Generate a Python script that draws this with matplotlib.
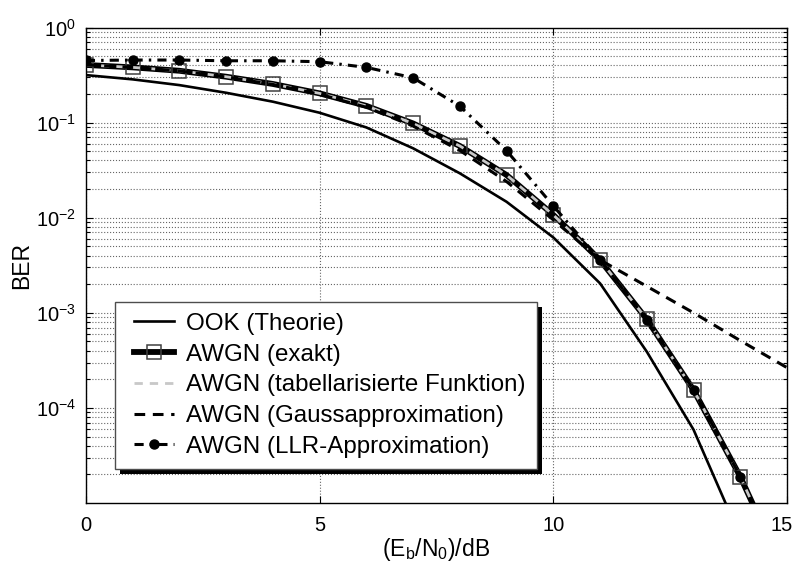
import matplotlib
matplotlib.use("Agg")
import matplotlib.pyplot as plt
import matplotlib.transforms as mtransforms
from matplotlib.legend_handler import HandlerLine2D
from matplotlib.patches import Rectangle
from matplotlib.ticker import LogLocator, NullFormatter

plt.rcParams['font.family'] = ['Liberation Sans', 'DejaVu Sans']
plt.rcParams['mathtext.fontset'] = 'custom'
plt.rcParams['mathtext.rm'] = 'Liberation Sans'
plt.rcParams['mathtext.it'] = 'Liberation Sans:italic'
plt.rcParams['mathtext.bf'] = 'Liberation Sans:bold'
plt.rcParams['mathtext.default'] = 'regular'

# Eb/N0 in dB
snr_ook = [0, 1, 2, 3, 4, 5, 6, 7, 8, 9, 10, 11, 12, 13, 14]
ber_ook = [0.316, 0.285, 0.248, 0.206, 0.166, 0.127, 0.089, 0.0537, 0.0293,
           0.0147, 6.2e-3, 2.04e-3, 3.9e-4, 5.9e-5, 4.4e-6]

snr_exact = [0, 1, 2, 3, 4, 5, 6, 7, 8, 9, 10, 11, 12, 13, 14, 15]
ber_exact = [0.404, 0.381, 0.351, 0.304, 0.255, 0.203, 0.150, 0.098, 0.0568,
             0.0281, 0.0107, 3.59e-3, 8.55e-4, 1.54e-4, 1.89e-5, 1.6e-6]

ber_tab = [0.404, 0.381, 0.351, 0.304, 0.255, 0.203, 0.150, 0.098, 0.0568,
           0.0281, 0.0107, 3.59e-3, 8.55e-4, 1.54e-4, 1.89e-5, 1.6e-6]

snr_gauss = [0, 1, 2, 3, 4, 5, 6, 7, 8, 9, 10, 11, 12, 13, 14, 15]
ber_gauss = [0.404, 0.381, 0.350, 0.302, 0.252, 0.199, 0.145, 0.092, 0.051,
             0.024, 9.5e-3, 3.6e-3, 1.9e-3, 1.0e-3, 5.1e-4, 2.65e-4]

snr_llr = [0, 1, 2, 3, 4, 5, 6, 7, 8, 9, 10, 11, 12, 13, 14]
ber_llr = [0.45, 0.455, 0.455, 0.447, 0.447, 0.437, 0.381, 0.296, 0.149,
           0.0507, 0.0133, 3.6e-3, 8.5e-4, 1.55e-4, 1.9e-5]

labels = ["OOK (Theorie)", "AWGN (exakt)", "AWGN (tabellarisierte Funktion)",
          "AWGN (Gaussapproximation)", "AWGN (LLR-Approximation)"]


class ShiftedLine(HandlerLine2D):
    # MATLAB legends leave a bit more room left of the line samples
    def create_artists(self, legend, orig_handle, xdescent, ydescent,
                       width, height, fontsize, trans):
        s = 6.0
        return super().create_artists(legend, orig_handle, xdescent - s, ydescent,
                                      width - s, height, fontsize, trans)


fig = plt.figure(figsize=(7.95, 5.65), dpi=100)
ax = fig.add_axes([0.108, 0.1097, 0.882, 0.8416])

l1, = ax.plot(snr_ook, ber_ook, color='black', lw=1.9)
l2, = ax.plot(snr_exact, ber_exact, color='black', lw=4.2, marker='s', ms=9.5,
              mfc='none', mec='0.25', mew=1.1)
l3, = ax.plot(snr_exact, ber_tab, color='#c8c8c8', lw=2, dashes=(3, 2.5))
l4, = ax.plot(snr_gauss, ber_gauss, color='black', lw=2.2, dashes=(3.5, 2.5))
l5, = ax.plot(snr_llr, ber_llr, color='black', lw=2.2, dashes=(3, 2, 0.8, 2),
              marker='o', ms=6.5, mfc='black', mec='black')

ax.set_yscale('log')
ax.set_xlim(0, 15)
ax.set_ylim(1e-5, 1)
ax.set_xticks([0, 5, 10, 15])
ax.set_yticks([1e-4, 1e-3, 1e-2, 1e-1, 1])
ax.yaxis.set_minor_locator(LogLocator(base=10, subs=range(2, 10)))
ax.yaxis.set_minor_formatter(NullFormatter())

ax.tick_params(which='both', direction='in', top=True, right=True, width=0.8)
ax.tick_params(which='major', length=5, labelsize=14.5)
ax.tick_params(which='minor', length=3)
ax.tick_params(axis='x', pad=9)
ax.tick_params(axis='y', pad=7)

ax.grid(True, which='major', axis='both', linestyle=':', color='0.4', lw=0.8)
ax.grid(True, which='minor', axis='y', linestyle=':', color='0.4', lw=0.8)
for sp in ax.spines.values():
    sp.set_linewidth(1.0)

# keep the last x tick label inside the figure
last = ax.get_xticklabels()[-1]
last.set_transform(last.get_transform() +
                   mtransforms.ScaledTranslation(-5 / 100, 0, fig.dpi_scale_trans))

ax.set_xlabel(r'(E$_\mathrm{b}$/N$_\mathrm{0}$)/dB', fontsize=16.5, labelpad=1)
ax.set_ylabel('BER', fontsize=16.5, labelpad=2)

leg = ax.legend([l1, l2, l3, l4, l5], labels, loc='upper left',
                bbox_to_anchor=(0.0414, 0.4227), borderaxespad=0,
                fontsize=17.4, frameon=True, fancybox=False, framealpha=1,
                edgecolor='0.3', handlelength=2.0, handletextpad=0.5,
                labelspacing=0.36, borderpad=0.45,
                handler_map={l: ShiftedLine() for l in [l1, l2, l3, l4, l5]})
leg.get_frame().set_linewidth(1.0)

# thick black drop shadow like the MATLAB legend
fig.canvas.draw()
bb = leg.get_window_extent().transformed(fig.transFigure.inverted())
dx, dy = 5 / 795, 5 / 565
ax.add_patch(Rectangle((bb.x0 + dx, bb.y0 - dy), bb.width, bb.height,
                       transform=fig.transFigure, facecolor='black',
                       edgecolor='none', zorder=4.9, clip_on=False))

fig.savefig('out.png', dpi=100)
